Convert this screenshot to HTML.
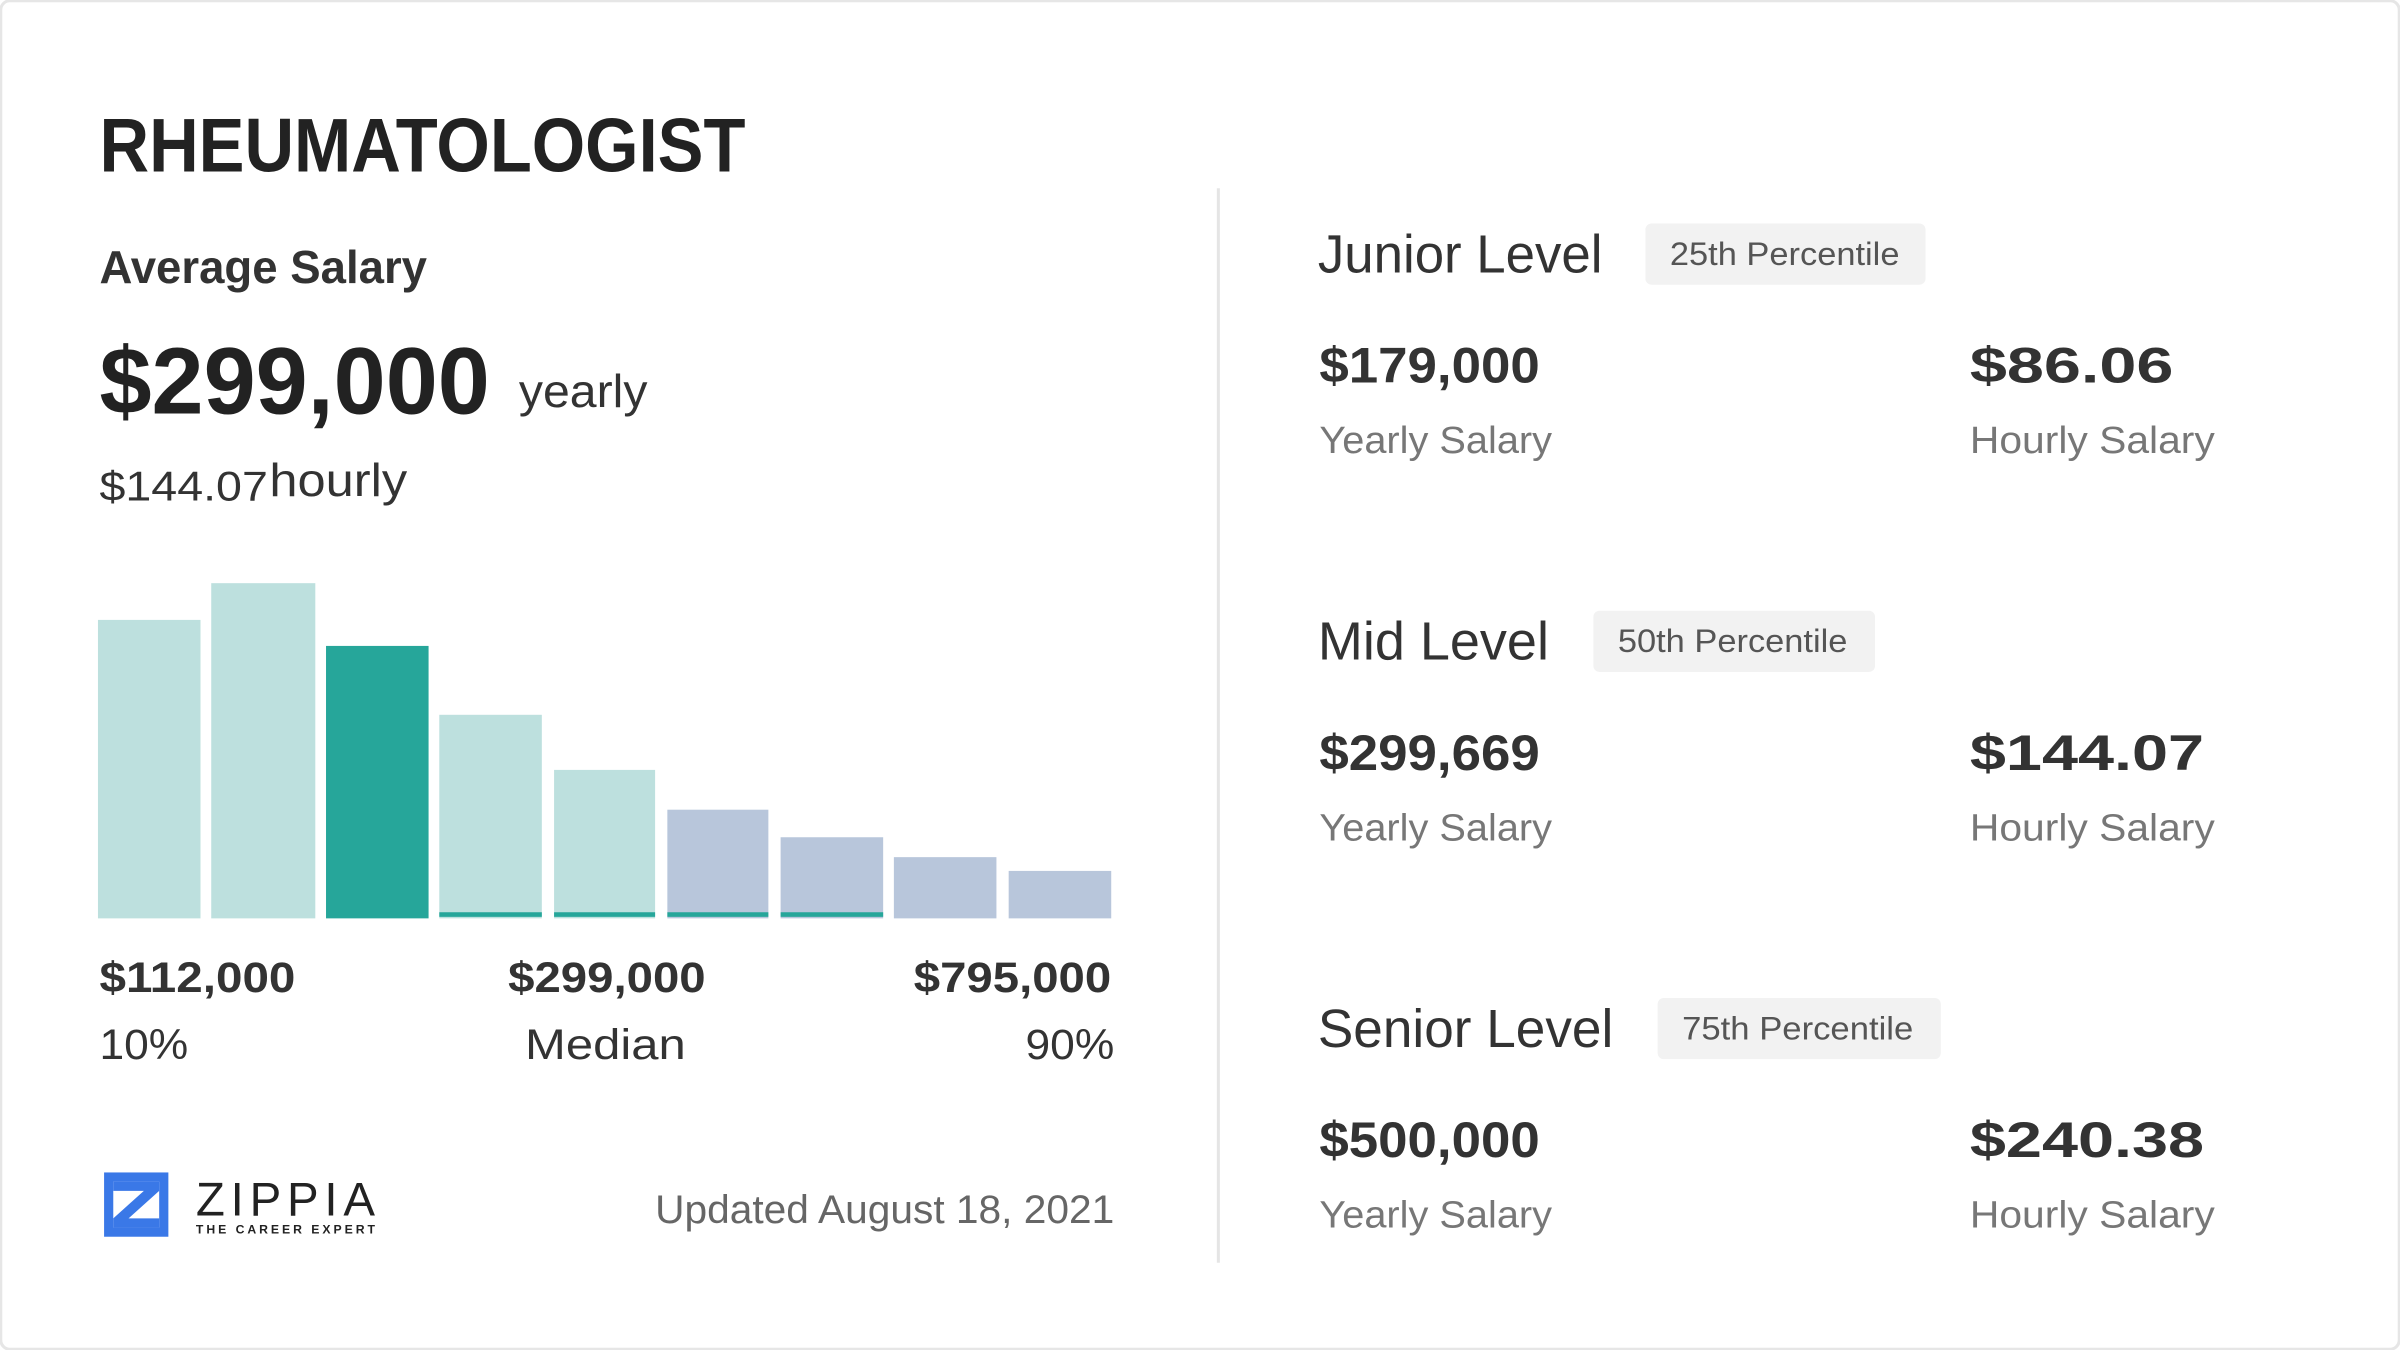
<!DOCTYPE html>
<html><head><meta charset="utf-8"><style>
html,body{margin:0;padding:0;background:#fff;}
svg{display:block;font-family:"Liberation Sans",sans-serif;}
</style></head><body>
<svg width="2400" height="1350" viewBox="0 0 1568 882" xmlns="http://www.w3.org/2000/svg">
<rect x="0.5" y="0.5" width="1567" height="881" rx="6" fill="#fff" stroke="#e6e6e6" stroke-width="2"/>
<text x="65" y="112" font-size="50" font-weight="bold" fill="#222" textLength="422" lengthAdjust="spacingAndGlyphs">RHEUMATOLOGIST</text>
<text x="65" y="185" font-size="30" font-weight="bold" fill="#333" textLength="214" lengthAdjust="spacingAndGlyphs">Average Salary</text>
<text x="65" y="270" font-size="62" font-weight="bold" fill="#222" textLength="255" lengthAdjust="spacingAndGlyphs">$299,000</text>
<text x="339" y="266" font-size="30" fill="#333" textLength="84" lengthAdjust="spacingAndGlyphs">yearly</text>
<text x="65" y="327" font-size="27" fill="#333" textLength="110" lengthAdjust="spacingAndGlyphs">$144.07</text>
<text x="176" y="324" font-size="30" fill="#333" textLength="90" lengthAdjust="spacingAndGlyphs">hourly</text>
<g>
<rect x="64" y="405" width="67" height="195" fill="#bde0de"/>
<rect x="138" y="381" width="68" height="219" fill="#bde0de"/>
<rect x="213" y="422" width="67" height="178" fill="#26a69a"/>
<rect x="287" y="467" width="67" height="133" fill="#bde0de"/>
<rect x="362" y="503" width="66" height="97" fill="#bde0de"/>
<rect x="436" y="529" width="66" height="71" fill="#b8c6db"/>
<rect x="510" y="547" width="67" height="53" fill="#b8c6db"/>
<rect x="584" y="560" width="67" height="40" fill="#b8c6db"/>
<rect x="659" y="569" width="67" height="31" fill="#b8c6db"/>
<rect x="287" y="596" width="67" height="3" fill="#26a69a"/>
<rect x="362" y="596" width="66" height="3" fill="#26a69a"/>
<rect x="436" y="596" width="66" height="3" fill="#26a69a"/>
<rect x="510" y="596" width="67" height="3" fill="#26a69a"/>
</g>
<g font-size="28" fill="#333">
<text x="65" y="648" font-weight="bold" textLength="128" lengthAdjust="spacingAndGlyphs">$112,000</text>
<text x="332" y="648" font-weight="bold" textLength="129" lengthAdjust="spacingAndGlyphs">$299,000</text>
<text x="597" y="648" font-weight="bold" textLength="129" lengthAdjust="spacingAndGlyphs">$795,000</text>
<text x="65" y="692" textLength="58" lengthAdjust="spacingAndGlyphs">10%</text>
<text x="343" y="692" textLength="105" lengthAdjust="spacingAndGlyphs">Median</text>
<text x="670" y="692" textLength="58" lengthAdjust="spacingAndGlyphs">90%</text>
</g>
<g>
<rect x="68" y="766" width="42" height="42" fill="#3a78e7"/>
<rect x="74" y="772" width="30" height="30" fill="#fff"/>
<path d="M74 772 H104 V778 L84 796 H104 V802 H74 V796 L94 778 H74 Z" fill="#3a78e7"/>
<text x="128" y="794" font-size="31" fill="#222" textLength="117" lengthAdjust="spacing">ZIPPIA</text>
<text x="128" y="806" font-size="8" font-weight="bold" fill="#222" textLength="117" lengthAdjust="spacing">THE CAREER EXPERT</text>
</g>
<text x="428" y="799" font-size="26" fill="#666" textLength="300" lengthAdjust="spacingAndGlyphs">Updated August 18, 2021</text>
<line x1="796" y1="123" x2="796" y2="825" stroke="#e5e5e5" stroke-width="2"/>
<g fill="#333">
<text x="861" y="178" font-size="35" textLength="186" lengthAdjust="spacingAndGlyphs">Junior Level</text>
<rect x="1075" y="146" width="183" height="40" rx="4" fill="#f2f2f2"/>
<text x="1091" y="173" font-size="21" fill="#555" textLength="150" lengthAdjust="spacingAndGlyphs">25th Percentile</text>
<text x="862" y="250" font-size="33" font-weight="bold" textLength="144" lengthAdjust="spacingAndGlyphs">$179,000</text>
<text x="1287" y="250" font-size="33" font-weight="bold" textLength="133" lengthAdjust="spacingAndGlyphs">$86.06</text>
<text x="862" y="296" font-size="25" fill="#777" textLength="152" lengthAdjust="spacingAndGlyphs">Yearly Salary</text>
<text x="1287" y="296" font-size="25" fill="#777" textLength="160" lengthAdjust="spacingAndGlyphs">Hourly Salary</text>

<text x="861" y="431" font-size="35" textLength="151" lengthAdjust="spacingAndGlyphs">Mid Level</text>
<rect x="1041" y="399" width="184" height="40" rx="4" fill="#f2f2f2"/>
<text x="1057" y="426" font-size="21" fill="#555" textLength="150" lengthAdjust="spacingAndGlyphs">50th Percentile</text>
<text x="862" y="503" font-size="33" font-weight="bold" textLength="144" lengthAdjust="spacingAndGlyphs">$299,669</text>
<text x="1287" y="503" font-size="33" font-weight="bold" textLength="153" lengthAdjust="spacingAndGlyphs">$144.07</text>
<text x="862" y="549" font-size="25" fill="#777" textLength="152" lengthAdjust="spacingAndGlyphs">Yearly Salary</text>
<text x="1287" y="549" font-size="25" fill="#777" textLength="160" lengthAdjust="spacingAndGlyphs">Hourly Salary</text>

<text x="861" y="684" font-size="35" textLength="193" lengthAdjust="spacingAndGlyphs">Senior Level</text>
<rect x="1083" y="652" width="185" height="40" rx="4" fill="#f2f2f2"/>
<text x="1099" y="679" font-size="21" fill="#555" textLength="151" lengthAdjust="spacingAndGlyphs">75th Percentile</text>
<text x="862" y="756" font-size="33" font-weight="bold" textLength="144" lengthAdjust="spacingAndGlyphs">$500,000</text>
<text x="1287" y="756" font-size="33" font-weight="bold" textLength="153" lengthAdjust="spacingAndGlyphs">$240.38</text>
<text x="862" y="802" font-size="25" fill="#777" textLength="152" lengthAdjust="spacingAndGlyphs">Yearly Salary</text>
<text x="1287" y="802" font-size="25" fill="#777" textLength="160" lengthAdjust="spacingAndGlyphs">Hourly Salary</text>
</g>
</svg>
</body></html>
